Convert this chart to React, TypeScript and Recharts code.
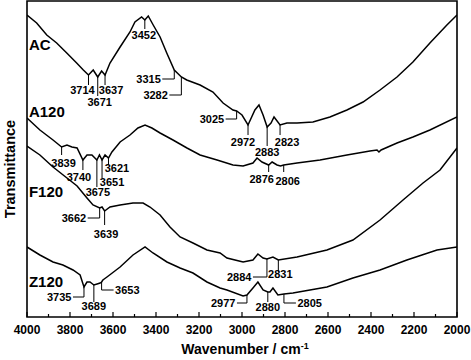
import { LineChart, Line, XAxis, YAxis, ReferenceDot, ReferenceArea } from 'recharts';

const FONT = '"Liberation Sans", Arial, sans-serif';

// [wavenumber, transmittance (arb. units, curves offset)]
const ac: [number, number][] = [
  [4000, 302], [3955, 294], [3908, 282], [3862, 274], [3815, 264], [3769, 254], [3738, 247],
  [3714, 242], [3692, 247], [3671, 240], [3653, 246], [3637, 242], [3614, 254], [3567, 270],
  [3521, 285], [3498, 295], [3467, 300], [3452, 297], [3436, 301], [3413, 292], [3381, 280],
  [3350, 264], [3315, 247], [3282, 240], [3257, 237], [3195, 232], [3135, 225], [3088, 214],
  [3042, 207], [3025, 206], [3000, 202], [2972, 192], [2940, 207], [2921, 212], [2902, 202],
  [2883, 190], [2865, 194], [2851, 200], [2823, 192], [2791, 194], [2744, 194], [2670, 195],
  [2591, 200], [2512, 207], [2437, 215], [2358, 227], [2279, 240], [2205, 255], [2126, 274],
  [2047, 292], [2000, 302],
];

const a120: [number, number][] = [
  [4000, 199], [3940, 187], [3879, 177], [3839, 170], [3814, 172], [3791, 170], [3767, 169],
  [3740, 157], [3721, 162], [3698, 162], [3675, 157], [3663, 162], [3651, 157], [3637, 162],
  [3621, 159], [3605, 165], [3567, 175], [3521, 182], [3484, 189], [3451, 192], [3419, 189],
  [3381, 184], [3321, 177], [3256, 169], [3195, 162], [3116, 157], [3042, 152], [2995, 151],
  [2949, 154], [2930, 159], [2907, 155], [2876, 152], [2860, 155], [2837, 152], [2821, 151],
  [2806, 152], [2744, 154], [2637, 157], [2512, 162], [2405, 166], [2372, 167], [2363, 165],
  [2353, 167], [2279, 174], [2205, 180], [2126, 187], [2000, 200],
];

const f120: [number, number][] = [
  [4000, 171], [3940, 162], [3879, 150], [3814, 139], [3767, 131], [3721, 119], [3693, 112],
  [3662, 109], [3651, 110], [3639, 106], [3614, 110], [3567, 112], [3507, 114], [3460, 114],
  [3428, 110], [3381, 102], [3335, 90], [3288, 80], [3228, 74], [3163, 67], [3102, 64],
  [3070, 59], [2995, 55], [2949, 57], [2926, 63], [2902, 59], [2884, 58], [2856, 60],
  [2831, 57], [2744, 60], [2605, 67], [2484, 77], [2358, 97], [2251, 117], [2158, 134],
  [2079, 147], [2000, 169],
];

const z120: [number, number][] = [
  [4000, 70], [3940, 62], [3879, 55], [3833, 52], [3786, 47], [3753, 42], [3735, 30],
  [3721, 35], [3707, 35], [3689, 32], [3674, 33], [3660, 34], [3653, 35], [3647, 37],
  [3628, 40], [3567, 50], [3507, 62], [3451, 70], [3414, 64], [3349, 55], [3288, 49],
  [3228, 44], [3163, 35], [3102, 29], [3070, 27], [2995, 21], [2977, 22], [2949, 29],
  [2926, 35], [2902, 27], [2880, 25], [2870, 25], [2856, 29], [2833, 22], [2805, 23],
  [2763, 24], [2605, 30], [2484, 39], [2358, 47], [2233, 57], [2093, 67], [2000, 70],
];

const xTicks = [
  2000, 2100, 2200, 2300, 2400, 2500, 2600, 2700, 2800, 2900, 3000,
  3100, 3200, 3300, 3400, 3500, 3600, 3700, 3800, 3900, 4000,
];

type Note = { wn: number; kind: 'down' | 'left' | 'right'; len: number; arm?: number; dx?: number; dy?: number };

const acNotes: Note[] = [
  { wn: 3714, kind: 'down', len: 10, dx: -6, dy: 15 },
  { wn: 3671, kind: 'down', len: 19, dx: 2, dy: 25 },
  { wn: 3637, kind: 'down', len: 10, dx: 6, dy: 15 },
  { wn: 3452, kind: 'down', len: 9, dx: -1, dy: 15 },
  { wn: 3315, kind: 'left', len: 9, arm: 12 },
  { wn: 3282, kind: 'left', len: 18, arm: 12 },
  { wn: 3025, kind: 'left', len: 8, arm: 11 },
  { wn: 2972, kind: 'down', len: 10, dx: -5, dy: 17 },
  { wn: 2883, kind: 'down', len: 19, dx: 0, dy: 25 },
  { wn: 2823, kind: 'down', len: 10, dx: 7, dy: 17 },
];

const a120Notes: Note[] = [
  { wn: 3839, kind: 'down', len: 8, dx: 2, dy: 16 },
  { wn: 3740, kind: 'down', len: 10, dx: -4, dy: 17 },
  { wn: 3675, kind: 'down', len: 27, dx: 1, dy: 32 },
  { wn: 3651, kind: 'down', len: 18, dx: 10, dy: 22 },
  { wn: 3621, kind: 'down', len: 7, dx: 8.5, dy: 10 },
  { wn: 2876, kind: 'down', len: 7, dx: -7, dy: 14 },
  { wn: 2806, kind: 'down', len: 7, dx: 4, dy: 16 },
];

const f120Notes: Note[] = [
  { wn: 3662, kind: 'left', len: 10, arm: 12 },
  { wn: 3639, kind: 'down', len: 14, dx: 1.5, dy: 23 },
  { wn: 2884, kind: 'left', len: 18, arm: 14 },
  { wn: 2831, kind: 'down', len: 12, dx: 2, dy: 14 },
];

const z120Notes: Note[] = [
  { wn: 3735, kind: 'left', len: 10, arm: 11 },
  { wn: 3689, kind: 'down', len: 17, dx: 0, dy: 21 },
  { wn: 3653, kind: 'right', len: 8, arm: 12 },
  { wn: 2977, kind: 'left', len: 8, arm: 10 },
  { wn: 2880, kind: 'down', len: 10, dx: 0, dy: 15 },
  { wn: 2805, kind: 'right', len: 9, arm: 12 },
];

const series = [
  { name: 'AC', pts: ac, notes: acNotes, labelY: 273 },
  { name: 'A120', pts: a120, notes: a120Notes, labelY: 206 },
  { name: 'F120', pts: f120, notes: f120Notes, labelY: 126 },
  { name: 'Z120', pts: z120, notes: z120Notes, labelY: 36 },
];

const toRows = (pts: [number, number][]) => pts.map(([wn, t]) => ({ wn, t }));

// y of a curve at a given wavenumber, used to hang the peak markers on it
const valueAt = (pts: [number, number][], wn: number) => {
  for (let i = 0; i < pts.length - 1; i++) {
    const [w0, t0] = pts[i];
    const [w1, t1] = pts[i + 1];
    if (wn <= w0 && wn >= w1) return t0 + ((t1 - t0) * (w0 - wn)) / (w0 - w1);
  }
  return pts[pts.length - 1][1];
};

const noteText = { fontFamily: FONT, fontSize: 11, fontWeight: 700, fill: '#000' };

const noteShape = (n: Note) => (p: any) => {
  const { cx, cy } = p;
  const txt = String(n.wn);
  if (n.kind === 'down') {
    return (
      <g>
        <line x1={cx} y1={cy} x2={cx} y2={cy + n.len} stroke="#000" strokeWidth={1} />
        <text x={cx + (n.dx ?? 0)} y={cy + (n.dy ?? n.len + 6)} textAnchor="middle" dominantBaseline="central" {...noteText}>
          {txt}
        </text>
      </g>
    );
  }
  const dir = n.kind === 'left' ? -1 : 1;
  const ex = cx + dir * (n.arm ?? 10);
  const ey = cy + n.len;
  return (
    <g>
      <polyline points={`${cx},${cy} ${cx},${ey} ${ex},${ey}`} fill="none" stroke="#000" strokeWidth={1} />
      <text x={ex + dir * 1.5} y={ey} textAnchor={dir < 0 ? 'end' : 'start'} dominantBaseline="central" {...noteText}>
        {txt}
      </text>
    </g>
  );
};

const XTick = (props: any) => {
  const { x, y, payload } = props;
  const major = payload.value % 200 === 0;
  return (
    <g>
      <line x1={x} x2={x} y1={y} y2={y - (major ? 5 : 3)} stroke="#000" strokeWidth={1.2} />
      {major && (
        <text x={x} y={y + 17} textAnchor="middle" fontFamily={FONT} fontSize={12} fontWeight={700} fill="#000">
          {payload.value}
        </text>
      )}
    </g>
  );
};

const XTitle = (props: any) => {
  const { x, y, width } = props.viewBox;
  return (
    <text x={x + width / 2 + 3} y={y + 37} textAnchor="middle" fontFamily={FONT} fontSize={14} fontWeight={700} fill="#000">
      Wavenumber / cm
      <tspan dy={-5} fontSize={9}>-1</tspan>
    </text>
  );
};

const YTitle = (props: any) => {
  const { y, height } = props.viewBox;
  const cy = y + height / 2 + 10;
  return (
    <text x={15} y={cy} transform={`rotate(-90 15 ${cy})`} textAnchor="middle" fontFamily={FONT} fontSize={14.5} fontWeight={700} fill="#000">
      Transmittance
    </text>
  );
};

const App = () => {
  return (
    <div style={{ position: 'absolute', left: 0, top: 0, background: '#fff' }}>
      <LineChart width={471} height={360} margin={{ top: 1, right: 14, left: 0, bottom: 0 }}>
        <XAxis
          dataKey="wn"
          type="number"
          domain={[2000, 4000]}
          reversed
          allowDataOverflow
          ticks={xTicks}
          interval={0}
          tickSize={0}
          tickMargin={0}
          axisLine={false}
          tick={<XTick />}
          height={43}
          label={<XTitle />}
        />
        <YAxis type="number" domain={[0, 316]} allowDataOverflow width={27} tick={false} tickLine={false} axisLine={false} label={<YTitle />} />
        {series.map((s) => (
          <Line
            key={s.name}
            data={toRows(s.pts)}
            dataKey="t"
            type="linear"
            stroke="#000"
            strokeWidth={1.5}
            dot={false}
            isAnimationActive={false}
          />
        ))}
        {series.map((s) =>
          s.notes.map((n) => (
            <ReferenceDot key={s.name + n.wn} x={n.wn} y={valueAt(s.pts, n.wn)} r={0} shape={noteShape(n)} />
          )),
        )}
        {series.map((s) => (
          <ReferenceDot
            key={'lab' + s.name}
            x={3991}
            y={s.labelY}
            r={0}
            shape={(p: any) => (
              <text x={p.cx} y={p.cy} dominantBaseline="central" fontFamily={FONT} fontSize={15} fontWeight={700} fill="#000">
                {s.name}
              </text>
            )}
          />
        ))}
        <ReferenceArea x1={2000} x2={4000} y1={0} y2={316} fill="none" stroke="#000" strokeWidth={1.6} ifOverflow="visible" />
      </LineChart>
    </div>
  );
};

export default App;
